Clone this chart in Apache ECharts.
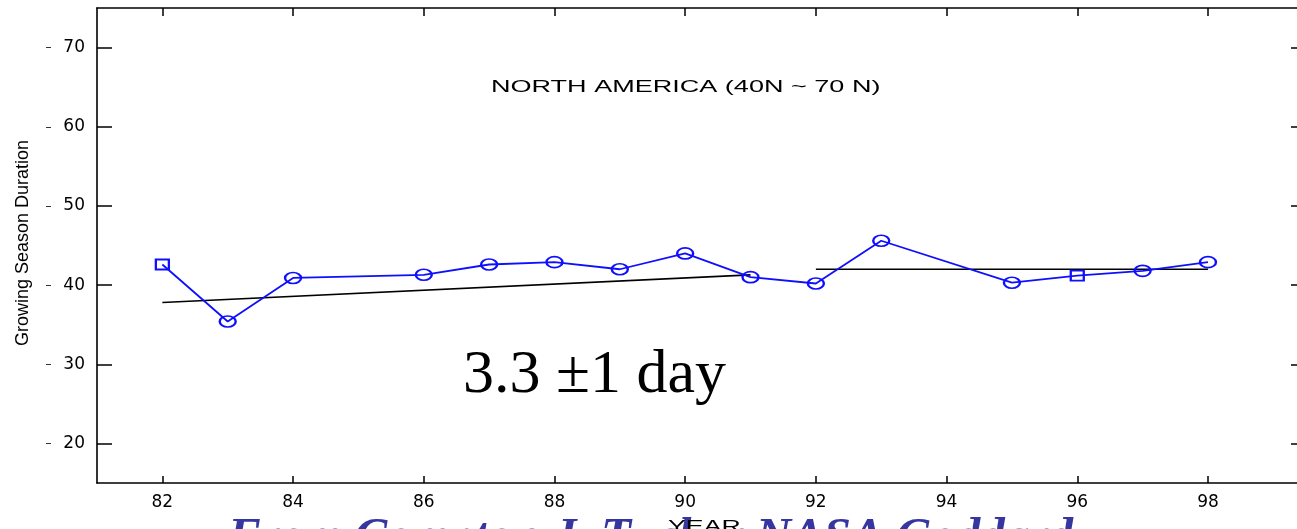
<!DOCTYPE html>
<html>
<head>
<meta charset="utf-8">
<script src="https://cdn.jsdelivr.net/npm/echarts@6/dist/echarts.min.js"></script>
<style>
  html, body { margin: 0; padding: 0; background: #fff; overflow: hidden; }
  #chart { width: 1312px; height: 529px; }
</style>
</head>
<body>
<div id="chart"></div>
<script>
// ---- data ----
const years = [82, 83, 84, 86, 87, 88, 89, 90, 91, 92, 93, 95, 96, 97, 98];
const duration = [42.6, 35.4, 40.9, 41.3, 42.6, 42.9, 42.0, 44.0, 41.0, 40.2, 45.6, 40.3, 41.2, 41.8, 42.9];
const squareYears = [82, 96];
const trend1Years = [82, 91];
const trend1Values = [37.8, 41.3];
const trend2Years = [92, 98];
const trend2Values = [42.0, 42.0];
const xTickValues = [82, 84, 86, 88, 90, 92, 94, 96, 98];
const yTickValues = [20, 30, 40, 50, 60, 70];
const titleText = 'NORTH AMERICA (40N ~ 70 N)';
const yAxisTitle = 'Growing Season Duration';
const xAxisTitle = 'YEAR';
const annotationText = '3.3 \u00B11 day';
const creditText = 'From Compton J. Tucker NASA Goddard';

const chart = echarts.init(document.getElementById('chart'), null, { renderer: 'canvas' });

const BLUE = '#0f0fff';
const axisLine = { show: true, lineStyle: { color: '#000', width: 1.6 } };
const labelFont = { color: '#000', fontSize: 17, fontFamily: 'DejaVu Sans' };

const toPairs = (xs, ys) => xs.map((x, i) => [x, ys[i]]);

const option = {
  backgroundColor: '#fff',
  animation: false,
  grid: { left: 97, top: 8, width: 1209, height: 475, containLabel: false },
  xAxis: [
    {
      type: 'value', position: 'bottom', min: 81, max: 99.5,
      axisLine: axisLine,
      axisTick: { show: true, inside: true, length: 7, lineStyle: { color: '#000', width: 1.5 }, customValues: xTickValues },
      axisLabel: Object.assign({ margin: 11, customValues: xTickValues }, labelFont),
      splitLine: { show: false }
    },
    {
      type: 'value', position: 'top', min: 81, max: 99.5,
      axisLine: axisLine,
      axisTick: { show: true, inside: true, length: 8, lineStyle: { color: '#000', width: 1.5 }, customValues: xTickValues },
      axisLabel: { show: false },
      splitLine: { show: false }
    }
  ],
  yAxis: [
    {
      type: 'value', position: 'left', min: 15, max: 75,
      axisLine: axisLine,
      axisTick: { show: true, inside: true, length: 15, lineStyle: { color: '#000', width: 1.5 }, customValues: yTickValues },
      axisLabel: Object.assign({ margin: 12, customValues: yTickValues }, labelFont),
      splitLine: { show: false }
    },
    {
      type: 'value', position: 'right', min: 15, max: 75,
      axisLine: axisLine,
      axisTick: { show: true, inside: true, length: 15, lineStyle: { color: '#000', width: 1.5 }, customValues: yTickValues },
      axisLabel: { show: false },
      splitLine: { show: false }
    },
    {
      type: 'value', position: 'left', offset: 46, min: 15, max: 75,
      axisLine: { show: false },
      axisTick: { show: true, inside: false, length: 5, lineStyle: { color: '#333', width: 1 }, customValues: yTickValues },
      axisLabel: { show: false },
      splitLine: { show: false }
    }
  ],
  series: [
    {
      type: 'line', xAxisIndex: 0, yAxisIndex: 0,
      data: toPairs(trend1Years, trend1Values),
      symbol: 'none',
      lineStyle: { color: '#000', width: 1.7 },
      z: 2
    },
    {
      type: 'line', xAxisIndex: 0, yAxisIndex: 0,
      data: toPairs(trend2Years, trend2Values),
      symbol: 'none',
      lineStyle: { color: '#000', width: 1.7 },
      z: 2
    },
    {
      type: 'line', xAxisIndex: 0, yAxisIndex: 0,
      data: toPairs(years, duration),
      symbol: (v) => squareYears.indexOf(v[0]) >= 0 ? 'rect' : 'circle',
      symbolSize: (v) => squareYears.indexOf(v[0]) >= 0 ? [13, 10] : [16, 11],
      showAllSymbol: true,
      lineStyle: { color: BLUE, width: 1.8 },
      itemStyle: { color: 'rgba(0,0,0,0)', borderColor: BLUE, borderWidth: 2 },
      z: 3
    }
  ],
  graphic: [
    {
      type: 'text', x: 491, y: 87.5, scaleX: 1.69, z: 10,
      style: { text: titleText, fill: '#000', font: '16px "Liberation Sans", Arial, sans-serif', textAlign: 'left', textVerticalAlign: 'middle' }
    },
    {
      type: 'text', x: 23, y: 243, rotation: Math.PI / 2, z: 10,
      style: { text: yAxisTitle, fill: '#000', font: '18px "Liberation Sans", Arial, sans-serif', textAlign: 'center', textVerticalAlign: 'middle' }
    },
    {
      type: 'text', x: 463, y: 376, z: 10,
      style: { text: annotationText, fill: '#000', font: '62px "Liberation Serif", "Times New Roman", serif', textAlign: 'left', textVerticalAlign: 'middle' }
    },
    {
      type: 'text', x: 228, y: 538, z: 10,
      style: { text: creditText, fill: '#3636a0', font: 'italic bold 49px "Liberation Serif", "Times New Roman", serif', textAlign: 'left', textVerticalAlign: 'middle' }
    },
    {
      type: 'text', x: 668, y: 528, scaleX: 1.67, z: 20,
      style: { text: xAxisTitle, fill: '#000', font: '16px "Liberation Sans", Arial, sans-serif', textAlign: 'left', textVerticalAlign: 'middle' }
    }
  ]
};

chart.setOption(option);
</script>
</body>
</html>
